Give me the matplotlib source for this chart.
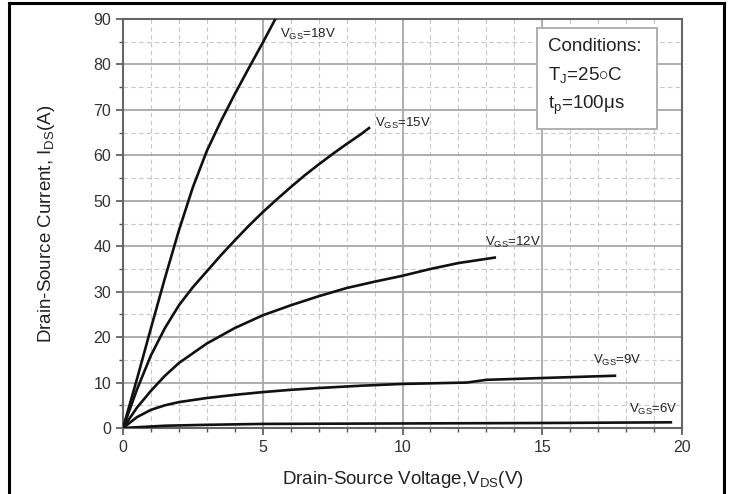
import numpy as np
import matplotlib.pyplot as plt
from matplotlib.lines import Line2D
from matplotlib.patches import Rectangle
from matplotlib.ticker import MultipleLocator

plt.rcParams['font.family'] = ['Liberation Sans', 'DejaVu Sans']
plt.rcParams['mathtext.fontset'] = 'custom'
plt.rcParams['mathtext.rm'] = 'Liberation Sans'
plt.rcParams['mathtext.it'] = 'Liberation Sans'

# curves: V_DS (V), I_DS (A)
vds_18 = [0, 0.5, 1.0, 1.5, 2.0, 2.5, 3.0, 3.5, 4.0, 4.5, 5.0, 5.45]
ids_18 = [0, 10.8, 22, 33, 43.5, 53, 61, 67.5, 73.5, 79.2, 84.8, 90]

vds_15 = [0, 0.5, 1, 1.5, 2, 2.5, 3, 3.5, 4, 4.5, 5, 5.5, 6, 6.5, 7, 7.5, 8, 8.5, 8.8]
ids_15 = [0, 8.5, 16, 22, 27, 31, 34.5, 38, 41.3, 44.5, 47.5, 50.3, 53, 55.6, 58, 60.3, 62.5, 64.6, 66.0]

vds_12 = [0, 0.5, 1, 1.5, 2, 3, 4, 5, 6, 7, 8, 9, 10, 11, 12, 13.3]
ids_12 = [0, 4.5, 8.2, 11.5, 14.3, 18.6, 22, 24.8, 27, 29, 30.8, 32.2, 33.5, 35, 36.3, 37.5]

vds_9 = [0, 0.5, 1, 1.5, 2, 3, 4, 5, 6, 7, 8.5, 10, 12.3, 13.0, 15, 17.6]
ids_9 = [0, 2.4, 4.0, 5.0, 5.7, 6.6, 7.3, 7.9, 8.4, 8.8, 9.3, 9.7, 10.0, 10.6, 11.0, 11.5]

vds_6 = [0, 1.5, 3, 5, 10, 15, 19.6]
ids_6 = [0, 0.5, 0.7, 0.9, 1.0, 1.1, 1.25]

curves = [(vds_18, ids_18), (vds_15, ids_15), (vds_12, ids_12), (vds_9, ids_9), (vds_6, ids_6)]

labels = [r'V$_{\rm GS}$=18V', r'V$_{\rm GS}$=15V', r'V$_{\rm GS}$=12V',
          r'V$_{\rm GS}$=9V', r'V$_{\rm GS}$=6V']
label_x = [5.6, 9.0, 12.95, 16.8, 18.1]
label_y = [86.5, 67.1, 40.9, 14.9, 4.0]

cond_lines = ['Conditions:', r'T$_{\rm J}$=25$\circ$C', r't$_{\rm p}$=100$\mu$s']
cond_y = [83.9, 77.7, 71.1]

fig = plt.figure(figsize=(7.31, 4.94), dpi=100)
ax = fig.add_axes([0.1683, 0.1336, 0.7647, 0.8279])

for v, i in curves:
    ax.plot(v, i, color='#111111', lw=1.9, zorder=3, solid_joinstyle='round')

for t, x, y in zip(labels, label_x, label_y):
    ax.text(x, y, t, fontsize=9.5, color='#222222', va='center', ha='left', zorder=4)

ax.set_xlim(0, 20)
ax.set_ylim(0, 90)
ax.xaxis.set_major_locator(MultipleLocator(5))
ax.xaxis.set_minor_locator(MultipleLocator(1))
ax.yaxis.set_major_locator(MultipleLocator(10))
ax.yaxis.set_minor_locator(MultipleLocator(5))

ax.grid(which='major', color='#a8a8a8', lw=1.3, ls='-')
ax.grid(which='minor', color='#c8c8c8', lw=0.8, ls=(0, (4, 3)))
ax.set_axisbelow(True)

for s in ax.spines.values():
    s.set_color('#666666')
    s.set_linewidth(1.5)

ax.tick_params(which='major', direction='out', length=5, width=1.2, color='#555555',
               labelsize=11.5, labelcolor='#333333')
ax.tick_params(which='minor', direction='out', length=3, width=1.0, color='#555555')

ax.set_xlabel(r'Drain-Source Voltage,V$_{\rm DS}$(V)', fontsize=13.5, color='#222222', labelpad=10)
ax.set_ylabel(r'Drain-Source Current, I$_{\rm DS}$(A)', fontsize=13.5, color='#222222', labelpad=26)

# conditions box
ax.add_patch(Rectangle((14.8, 65.9), 4.3, 22.1, fc='white', ec='#aaaaaa', lw=1.3, zorder=5))
for t, y in zip(cond_lines, cond_y):
    ax.text(15.2, y, t, fontsize=13.5, color='#222222', va='center', ha='left', zorder=6)

# outer frame (left, top, right)
fig.add_artist(Line2D([9 / 731, 9 / 731], [0, 1 - 3 / 494], transform=fig.transFigure, color='black', lw=2.2))
fig.add_artist(Line2D([9 / 731, 724 / 731], [1 - 3 / 494, 1 - 3 / 494], transform=fig.transFigure, color='black', lw=2.2))
fig.add_artist(Line2D([724 / 731, 724 / 731], [0, 1 - 3 / 494], transform=fig.transFigure, color='black', lw=2.2))

fig.savefig('out.png', dpi=100)
